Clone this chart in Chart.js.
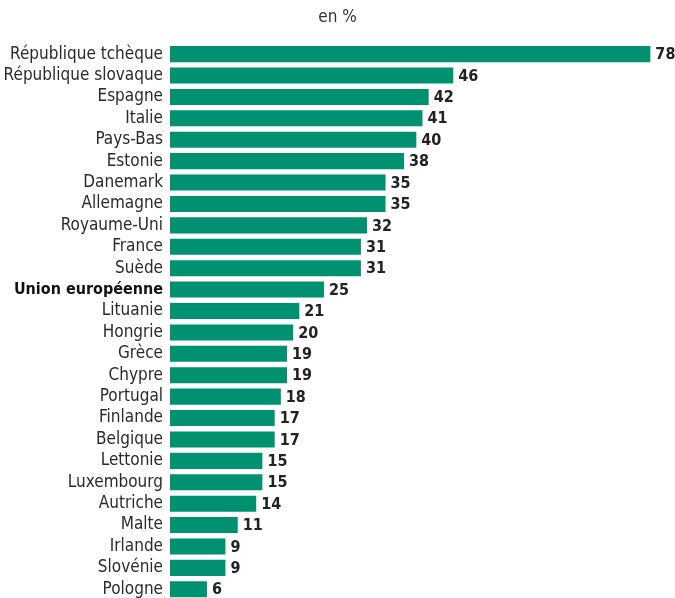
<!DOCTYPE html>
<html lang="fr">
<head>
    <meta charset="UTF-8">
    <title>en %</title>
    <style>
        html, body { margin: 0; padding: 0; background: #fff; overflow: hidden; }
    </style>
</head>
<body>
    <canvas id="myChart" width="675" height="600"></canvas>
    <script src="https://cdn.jsdelivr.net/npm/chart.js"></script>
    <script>
        // data
        const countries = ["République tchèque", "République slovaque", "Espagne", "Italie", "Pays-Bas", "Estonie",
            "Danemark", "Allemagne", "Royaume-Uni", "France", "Suède", "Union européenne", "Lituanie", "Hongrie",
            "Grèce", "Chypre", "Portugal", "Finlande", "Belgique", "Lettonie", "Luxembourg", "Autriche", "Malte",
            "Irlande", "Slovénie", "Pologne"];
        const values = [78, 46, 42, 41, 40, 38, 35, 35, 32, 31, 31, 25, 21, 20, 19, 19, 18, 17, 17, 15, 15, 14, 11, 9, 9, 6];
        const highlight = "Union européenne";

        const FONT = "'DejaVu Sans Condensed', 'Liberation Sans Narrow', sans-serif";

        // values at the end of each bar
        const valueLabels = {
            id: "valueLabels",
            afterDatasetsDraw(chart) {
                const ctx = chart.ctx;
                const meta = chart.getDatasetMeta(0);
                ctx.save();
                ctx.font = "bold 16px " + FONT;
                ctx.fillStyle = "#222";
                ctx.textBaseline = "middle";
                ctx.textAlign = "left";
                meta.data.forEach((bar, i) => {
                    ctx.fillText(values[i], bar.x + 5, bar.y + 1);
                });
                ctx.restore();
            }
        };

        new Chart(document.getElementById("myChart"), {
            type: "bar",
            data: {
                labels: countries,
                datasets: [{
                    data: values,
                    backgroundColor: "#009270",
                    borderWidth: 0,
                    barPercentage: 0.75,
                    categoryPercentage: 1
                }]
            },
            options: {
                indexAxis: "y",
                responsive: false,
                animation: false,
                layout: { padding: 0 },
                plugins: {
                    legend: { display: false },
                    tooltip: { enabled: false },
                    title: {
                        display: true,
                        text: "en %",
                        color: "#333",
                        font: { family: FONT, size: 17, weight: "normal", lineHeight: 1.2 },
                        padding: { top: 7, bottom: 16 }
                    }
                },
                scales: {
                    x: {
                        min: 0,
                        max: 82,
                        display: false
                    },
                    y: {
                        grid: { display: false, drawTicks: false },
                        border: { display: false },
                        afterFit(scale) {
                            scale.width = 170;
                            scale.paddingTop = 0;
                            scale.paddingBottom = 0;
                        },
                        ticks: {
                            padding: 7,
                            autoSkip: false,
                            color: (c) => countries[c.index] === highlight ? "#111" : "#2a2a2a",
                            font: (c) => countries[c.index] === highlight
                                ? { family: FONT, size: 16, weight: "bold" }
                                : { family: FONT, size: 17, weight: "normal" }
                        }
                    }
                }
            },
            plugins: [valueLabels]
        });
    </script>
</body>
</html>
